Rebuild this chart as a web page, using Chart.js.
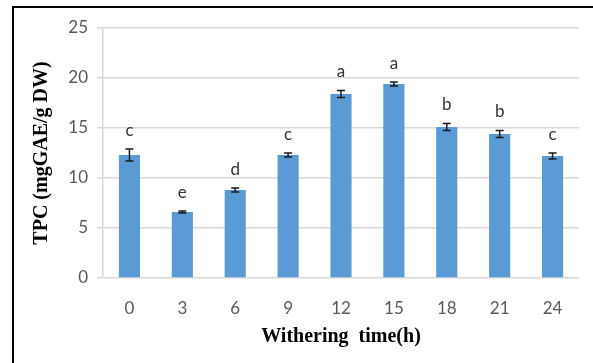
<!DOCTYPE html>
<html>
<head>
<meta charset="utf-8">
<script src="https://cdn.jsdelivr.net/npm/chart.js@4.4.0/dist/chart.umd.min.js"></script>
<style>
  html, body { margin: 0; padding: 0; background: #fff; }
  #wrap { position: relative; width: 593px; height: 363px; }
  #frame {
    position: absolute; left: 12px; top: 6px; right: 0; bottom: 0;
    border-left: 2px solid #000; border-top: 2px solid #000;
    pointer-events: none;
  }
</style>
</head>
<body>
<div id="wrap">
  <canvas id="myChart" width="593" height="363"></canvas>
  <div id="frame"></div>
</div>
<script>
const ctx = document.querySelector('#myChart');

// withering time (h)
const labels = ['0', '3', '6', '9', '12', '15', '18', '21', '24'];
// TPC (mgGAE/g DW)
const values = [12.3, 6.6, 8.8, 12.3, 18.4, 19.4, 15.1, 14.4, 12.2];
const errors = [0.6, 0.1, 0.2, 0.2, 0.35, 0.2, 0.35, 0.35, 0.3];
const letters = ['c', 'e', 'd', 'c', 'a', 'a', 'b', 'b', 'c'];
const yTicks = [0, 5, 10, 15, 20, 25];

const tickFont = { family: 'Lato', size: 17 };
const titleFont = { family: 'Liberation Serif', size: 20, weight: 'bold' };

// error bars and significance letters, placed through the chart's scales
const errorBars = {
    id: 'errorBars',
    afterDatasetsDraw(chart) {
        const c = chart.ctx;
        const y = chart.scales.y;
        const meta = chart.getDatasetMeta(0);
        c.save();
        meta.data.forEach((bar, i) => {
            const top = y.getPixelForValue(values[i] + errors[i]);
            const bot = y.getPixelForValue(values[i] - errors[i]);
            c.strokeStyle = '#1a1a1a';
            c.lineWidth = 1.5;
            c.beginPath();
            c.moveTo(bar.x, top);
            c.lineTo(bar.x, bot);
            c.moveTo(bar.x - 4, top);
            c.lineTo(bar.x + 4, top);
            c.moveTo(bar.x - 4, bot);
            c.lineTo(bar.x + 4, bot);
            c.stroke();

            c.fillStyle = '#333';
            c.font = '17px Lato';
            c.textAlign = 'center';
            c.textBaseline = 'bottom';
            c.fillText(letters[i], bar.x, top - 10);
        });
        c.restore();
    }
};

new Chart(ctx, {
    type: 'bar',
    data: {
        labels,
        datasets: [{
            data: values,
            backgroundColor: '#5b9bd5',
            borderWidth: 0,
            categoryPercentage: 1,
            barPercentage: 0.4
        }]
    },
    options: {
        responsive: false,
        animation: false,
        layout: { padding: { left: 30, right: 14, top: 28, bottom: 14 } },
        plugins: {
            legend: { display: false },
            tooltip: { enabled: false }
        },
        scales: {
            x: {
                grid: { display: false },
                border: { display: false },
                ticks: { color: '#595959', font: tickFont, padding: 12 },
                title: {
                    display: true,
                    text: 'Withering  time(h)',
                    color: '#000',
                    font: titleFont,
                    padding: { top: 4, bottom: 0 }
                },
                afterFit(scale) { scale.height = 71; }
            },
            y: {
                min: 0,
                max: 25,
                afterBuildTicks(scale) { scale.ticks = yTicks.map(v => ({ value: v })); },
                grid: { color: '#d9d9d9', lineWidth: 1.5, tickLength: 6 },
                border: { color: '#d9d9d9', width: 1.5 },
                ticks: { color: '#595959', font: tickFont, padding: 9 },
                title: {
                    display: true,
                    text: 'TPC (mgGAE/g DW)',
                    color: '#000',
                    font: titleFont,
                    padding: { top: 0, bottom: 0 }
                },
                afterFit(scale) { scale.width = 73; }
            }
        }
    },
    plugins: [errorBars]
});
</script>
</body>
</html>
